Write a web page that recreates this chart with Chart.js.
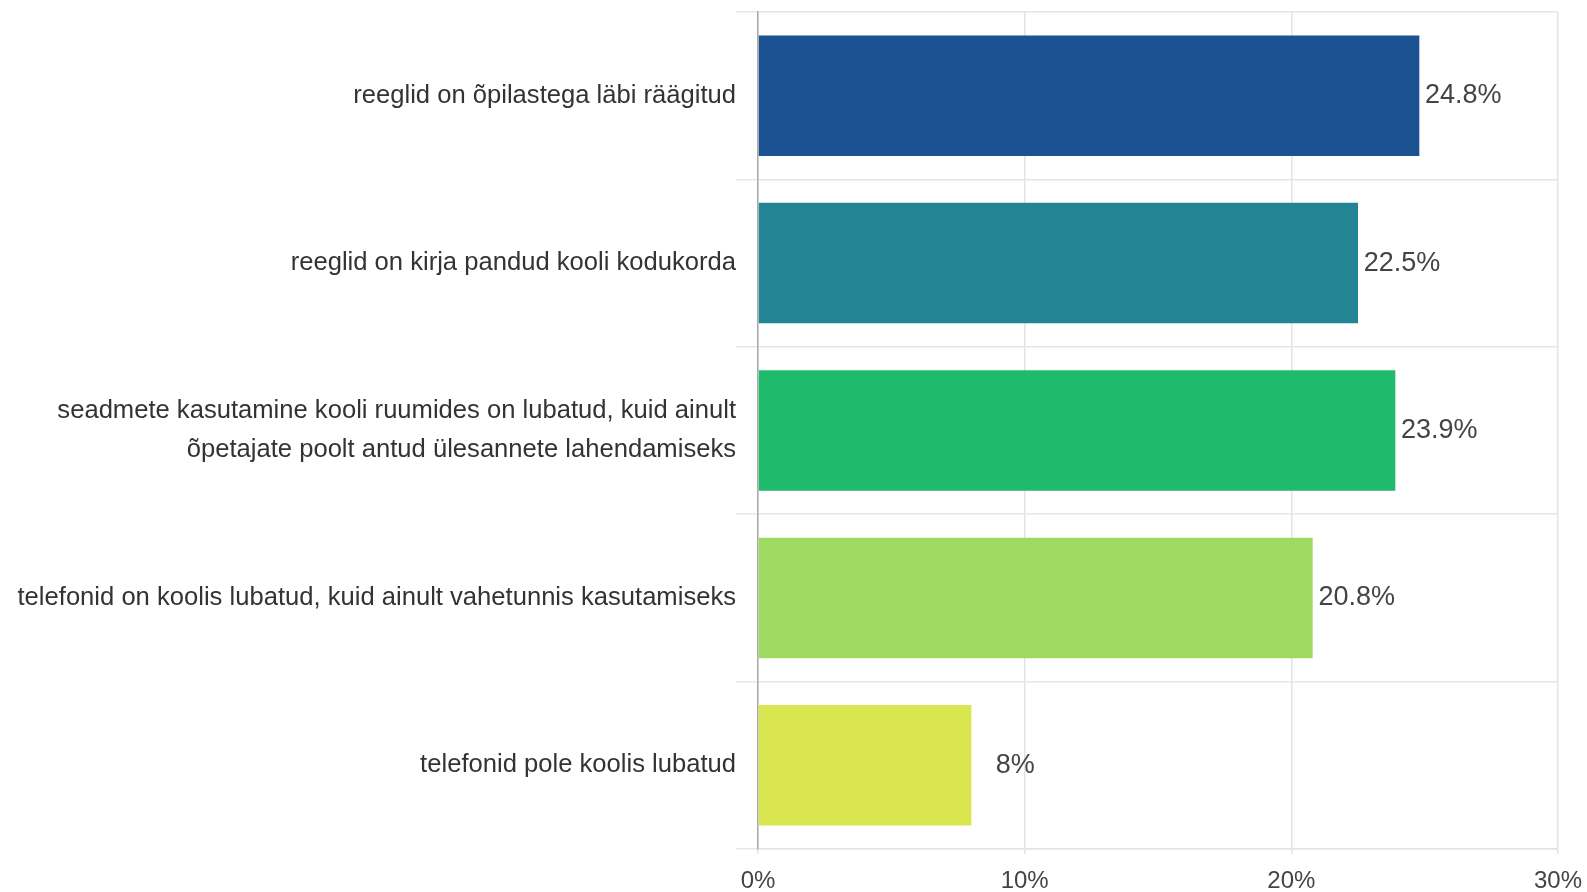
<!DOCTYPE html>
<html><head><meta charset="utf-8">
<script src="https://cdn.jsdelivr.net/npm/chart.js@4/dist/chart.umd.min.js"></script>
<style>html,body{margin:0;padding:0;background:#fff}#wrap{width:1587px;height:892px}</style>
</head><body><div id="wrap"><canvas id="c" width="1587" height="892"></canvas></div>
<script>
const categories = [
  "reeglid on õpilastega läbi räägitud",
  "reeglid on kirja pandud kooli kodukorda",
  ["seadmete kasutamine kooli ruumides on lubatud, kuid ainult", "õpetajate poolt antud ülesannete lahendamiseks"],
  "telefonid on koolis lubatud, kuid ainult vahetunnis kasutamiseks",
  "telefonid pole koolis lubatud"
];
const values = [24.8, 22.5, 23.9, 20.8, 8];
const valueLabels = ["24.8%", "22.5%", "23.9%", "20.8%", "8%"];
const barColors = ["#1b5291", "#238495", "#1fba6c", "#9fd962", "#d9e650"];
const xTicks = [0, 10, 20, 30];

const FONT = "'Liberation Sans', Arial, sans-serif";

const labelPlugin = {
  id: 'valLabels',
  afterDatasetsDraw(chart) {
    const ctx = chart.ctx;
    const meta = chart.getDatasetMeta(0);
    ctx.save();
    ctx.font = "27px " + FONT;
    ctx.fillStyle = "#444";
    ctx.textAlign = "center";
    ctx.textBaseline = "middle";
    meta.data.forEach((bar, i) => {
      ctx.fillText(valueLabels[i], bar.x + 44, bar.y);
    });
    ctx.restore();
  }
};

new Chart(document.getElementById('c'), {
  type: 'bar',
  data: {
    labels: categories,
    datasets: [{ data: values, backgroundColor: barColors, borderWidth: 0, categoryPercentage: 0.72, barPercentage: 1 }]
  },
  options: {
    indexAxis: 'y',
    responsive: false,
    animation: false,
    layout: { padding: { top: 12, right: 29, bottom: 0, left: 0 } },
    plugins: { legend: { display: false }, tooltip: { enabled: false } },
    scales: {
      x: {
        min: 0, max: 30,
        afterBuildTicks(s) { s.ticks = xTicks.map(v => ({ value: v })); },
        afterFit(s) { s.paddingLeft = 0; s.paddingRight = 0; s.height = 43; },
        ticks: { callback: v => v + "%", font: { size: 24, family: FONT, lineHeight: 1 }, color: "#444", padding: 15, maxRotation: 0 },
        grid: { color: "#e3e3e3", lineWidth: 1.5, tickLength: 5, drawTicks: true },
        border: { display: true, color: "#e3e3e3", width: 1.5 }
      },
      y: {
        afterFit(s) { s.width = 758; s.paddingTop = 0; s.paddingBottom = 0; },
        ticks: { font: { size: 25.6, family: FONT, lineHeight: 1.52 }, color: "#333", padding: 0 },
        grid: { color: "#e6e6e6", lineWidth: 1.5, tickLength: 22, offset: true },
        border: { display: true, color: "#aaa", width: 1.5 }
      }
    }
  },
  plugins: [labelPlugin]
});
</script></body></html>
